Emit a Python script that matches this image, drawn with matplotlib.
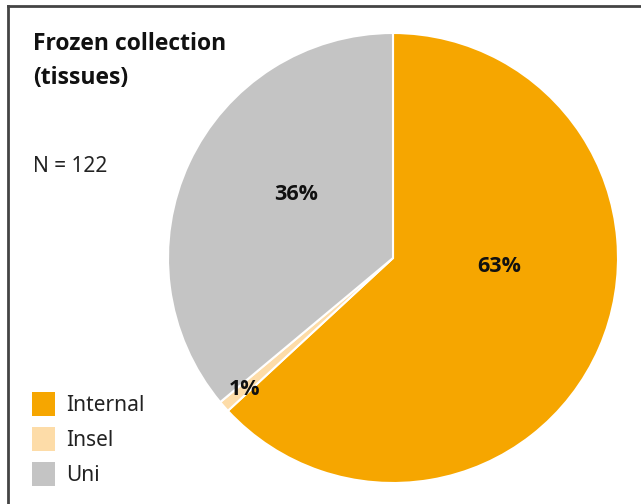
import matplotlib.pyplot as plt
from matplotlib.patches import Patch
from matplotlib.lines import Line2D

labels = ["Internal", "Insel", "Uni"]
counts = [77, 1, 44]
colors = ["#F6A600", "#FDDCA8", "#C4C4C4"]
# where each percentage sits, in pie radius units from the centre
label_pos = [(0.47, -0.04), (-0.66, -0.585), (-0.43, 0.28)]

total = sum(counts)
W, H = 641, 504
fig = plt.figure(figsize=(W / 100, H / 100), dpi=100)
plt.rcParams['font.family'] = ['Noto Sans', 'DejaVu Sans']
BOLD = ['Open Sans', 'DejaVu Sans']

# pie axes: centre (393, 258) px, radius 225 px
cx, cy, r = 393, 258, 225
ax = fig.add_axes([(cx - r) / W, (H - cy - r) / H, 2 * r / W, 2 * r / H])
wedges, _ = ax.pie(counts, colors=colors, startangle=90, counterclock=False,
                   radius=1, wedgeprops=dict(edgecolor="white", linewidth=1.5))
ax.set_xlim(-1, 1)
ax.set_ylim(-1, 1)
ax.set_aspect("equal")
ax.axis("off")

for c, (x, y) in zip(counts, label_pos):
    ax.text(x, y, "{:.0f}%".format(100 * c / total), ha="center", va="center",
            fontsize=15.5, fontweight="bold", family=BOLD, color="#111111")

# frame lines on top and left only
fig.add_artist(Line2D([8 / W, 1], [1 - 6 / H, 1 - 6 / H], color="#444444", lw=2))
fig.add_artist(Line2D([8 / W, 8 / W], [0, 1 - 6 / H], color="#444444", lw=2))

fig.text(33 / W, 1 - 50 / H, "Frozen collection", fontsize=16.5, fontweight="bold",
         family=BOLD, color="#111111", ha="left", va="baseline")
fig.text(33 / W, 1 - 84 / H, "(tissues)", fontsize=16.5, fontweight="bold",
         family=BOLD, color="#111111", ha="left", va="baseline")
fig.text(33 / W, 1 - 172 / H, "N = 122", fontsize=15, color="#222222",
         ha="left", va="baseline")

handles = [Patch(facecolor=c, edgecolor="none", label=l) for c, l in zip(colors, labels)]
fig.legend(handles=handles, loc="lower left", bbox_to_anchor=(32 / W, 18 / H),
           frameon=False, fontsize=15, handlelength=1.1, handleheight=1.35,
           handletextpad=0.55, labelspacing=0.55, borderpad=0, borderaxespad=0,
           labelcolor="#222222")

fig.savefig("out.png", dpi=100)
